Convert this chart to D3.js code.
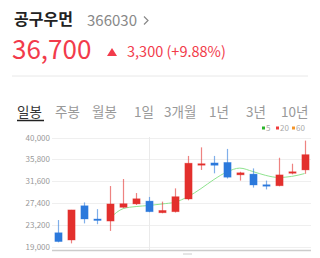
<!DOCTYPE html>
<html>
<head>
<meta charset="utf-8">
<script src="https://cdn.jsdelivr.net/npm/d3@7"></script>
<style>
  body { margin: 0; background: #fff; }
  svg { display: block; }
  text { font-family: "Noto Sans CJK KR", "Noto Sans", sans-serif; }
</style>
</head>
<body>
<svg id="chart"></svg>
<script>
let width = 320, height = 258;

// stock header
let stockName = "공구우먼";
let stockCode = "366030";
let lastPrice = "36,700";
let change = "3,300 (+9.88%)";

let tabs = ["일봉", "주봉", "월봉", "1일", "3개월", "1년", "3년", "10년"];
let legendLabels = ["5", "20", "60"];
let yTicks = [19000, 23200, 27400, 31600, 35800, 40000];

// daily candles
let opens  = [21650, 20250, 26850, 24300, 23900, 26550, 27200, 27750, 25500, 25700,
              28150, 34700, 35100, 35200, 32800, 32950, 30900, 30700, 33200, 33750];
let closes = [19950, 26050, 24300, 24100, 27200, 27250, 28200, 25700, 25950, 28600,
              35050, 34950, 34650, 32350, 33200, 30850, 30800, 32800, 33400, 36700];
let highs  = [24100, 26050, 27500, 26200, 30650, 32000, 29300, 28550, 27650, 30200,
              36450, 38100, 36450, 37800, 33400, 34050, 31700, 36100, 34950, 39400];
let lows   = [19800, 19600, 23450, 23300, 22000, 26400, 27000, 25600, 25400, 25550,
              27900, 33750, 33100, 32100, 31700, 30350, 30000, 30600, 32900, 33000];
// 5-day average line, starts at the 5th candle
let ma5 = [null, null, null, null, 24500, 26300, 26700, 26900, 27200, 27550,
           28600, 30150, 31900, 33350, 34100, 33450, 32700, 32300, 32500, 33050];

let red = "#e3302d", blue = "#2b79dc";
let headRed = "#f23b4b";

let svg = d3.select("#chart").attr("width", width).attr("height", height);

// ---- header ----
svg.append("text").attr("x", 14).attr("y", 25)
  .attr("font-size", 16).attr("font-weight", "bold").attr("fill", "#222")
  .text(stockName);
svg.append("text").attr("x", 87).attr("y", 25.5)
  .attr("font-family", "Noto Sans").attr("font-size", 15).attr("fill", "#888")
  .text(stockCode);
svg.append("path").attr("d", "M144,16.5 L148,20.5 L144,24.5")
  .attr("fill", "none").attr("stroke", "#888").attr("stroke-width", 1.2);

svg.append("text").attr("x", 12).attr("y", 58.5)
  .attr("font-family", "Noto Sans").attr("font-size", 26).attr("fill", headRed)
  .text(lastPrice);
svg.append("path").attr("d", "M107,56 L112,48 L117,56 Z").attr("fill", headRed);
svg.append("text").attr("x", 127).attr("y", 57)
  .attr("font-family", "Noto Sans").attr("font-size", 14.5).attr("fill", headRed)
  .text(change);

svg.append("line").attr("x1", 12).attr("x2", 308).attr("y1", 76).attr("y2", 76)
  .attr("stroke", "#e8e8e8");

// ---- tabs ----
let tabX = [17, 55, 92, 134, 164, 209, 246, 281];
svg.selectAll(".tab").data(tabs).enter().append("text")
  .attr("class", "tab")
  .attr("x", (d, i) => tabX[i]).attr("y", 117)
  .attr("font-size", 13.5)
  .attr("fill", (d, i) => i == 0 ? "#333" : "#999")
  .text(d => d);
svg.append("line").attr("x1", 17).attr("x2", 44).attr("y1", 120.5).attr("y2", 120.5)
  .attr("stroke", "#222").attr("stroke-width", 1.5);

// legend
let legendColors = ["#2bb52b", "#f03c3c", "#f5962a"];
let legX = [262, 276, 292];
legendLabels.forEach((l, i) => {
  svg.append("rect").attr("x", legX[i]).attr("y", 126.5).attr("width", 3).attr("height", 3)
    .attr("fill", legendColors[i]);
  svg.append("text").attr("x", legX[i] + 4).attr("y", 131)
    .attr("font-family", "Noto Sans").attr("font-size", 8).attr("fill", "#aaa")
    .text(l);
});

// ---- chart ----
let x = d3.scaleBand().domain(d3.range(opens.length)).range([52, 311]).paddingInner(0.44).paddingOuter(0.22);
let y = d3.scaleLinear().domain([19000, 40000]).range([246.5, 137.5]);

let grid = svg.append("g");
grid.selectAll("line").data(yTicks).enter().append("line")
  .attr("x1", 52).attr("x2", 311)
  .attr("y1", d => Math.round(y(d)) + 0.5).attr("y2", d => Math.round(y(d)) + 0.5)
  .attr("stroke", "#efefef");
// month divider
let cx = i => x(i) + x.bandwidth() / 2;
svg.append("line").attr("x1", Math.round(cx(7)) + 0.5).attr("x2", Math.round(cx(7)) + 0.5)
  .attr("y1", 137).attr("y2", 250).attr("stroke", "#eaeaea");

let yAxis = svg.append("g").attr("transform", "translate(50,0)")
  .call(d3.axisLeft(y).tickValues(yTicks).tickSize(0).tickPadding(0).tickFormat(d3.format(",")));
yAxis.select(".domain").remove();
yAxis.selectAll("text").attr("font-family", "Noto Sans").attr("font-size", 8).attr("fill", "#999");

svg.append("line").attr("x1", 52).attr("x2", 311).attr("y1", 250.5).attr("y2", 250.5)
  .attr("stroke", "#ccc").attr("stroke-width", 1.6);
svg.append("line").attr("x1", 183).attr("x2", 192).attr("y1", 254).attr("y2", 254)
  .attr("stroke", "#ccc").attr("stroke-width", 1);

// moving average
let line = d3.line()
  .defined(d => d != null)
  .x((d, i) => cx(i))
  .y(d => y(d))
  .curve(d3.curveMonotoneX);
svg.append("path").datum(ma5).attr("d", line)
  .attr("fill", "none").attr("stroke", "#8fe38f").attr("stroke-width", 1);

// candles
let candles = svg.selectAll(".candle").data(opens).enter().append("g").attr("class", "candle");
candles.append("line")
  .attr("x1", (d, i) => Math.round(cx(i)) + 0.5).attr("x2", (d, i) => Math.round(cx(i)) + 0.5)
  .attr("y1", (d, i) => y(highs[i])).attr("y2", (d, i) => y(lows[i]))
  .attr("stroke", (d, i) => closes[i] >= d ? red : blue)
  .attr("stroke-opacity", 0.6).attr("stroke-width", 1.2);
candles.append("rect")
  .attr("x", (d, i) => Math.round(cx(i)) + 0.5 - x.bandwidth() / 2)
  .attr("width", x.bandwidth())
  .attr("y", (d, i) => y(Math.max(d, closes[i])))
  .attr("height", (d, i) => Math.max(1.5, Math.abs(y(d) - y(closes[i]))))
  .attr("fill", (d, i) => closes[i] >= d ? red : blue)
  .attr("stroke", (d, i) => closes[i] >= d ? red : blue)
  .attr("stroke-opacity", 0.4).attr("stroke-width", 0.8);
</script>
</body>
</html>
